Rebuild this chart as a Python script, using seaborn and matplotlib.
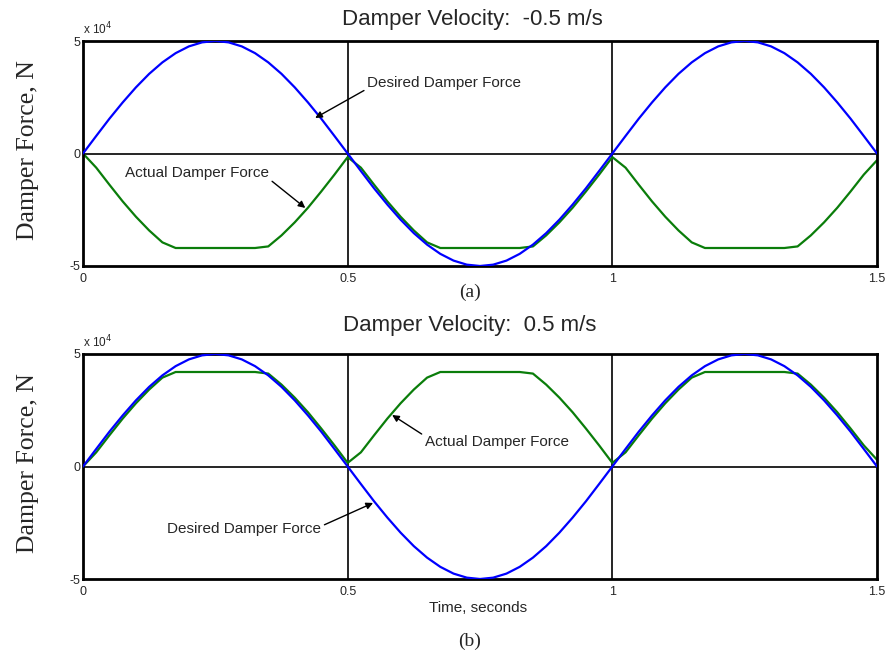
import numpy as np
import pandas as pd
import matplotlib
matplotlib.use("Agg")
import matplotlib.pyplot as plt
import seaborn as sns

# ---- data (force in units of 1e4 N), time step 0.025 s ----
time_s = [round(0.025 * i, 3) for i in range(61)]

desired_a = [0.00, 0.78, 1.55, 2.27, 2.94, 3.54, 4.05, 4.46, 4.76, 4.94, 5.00,
             4.94, 4.76, 4.46, 4.05, 3.54, 2.94, 2.27, 1.55, 0.78, 0.00,
             -0.78, -1.55, -2.27, -2.94, -3.54, -4.05, -4.46, -4.76, -4.94, -5.00,
             -4.94, -4.76, -4.46, -4.05, -3.54, -2.94, -2.27, -1.55, -0.78, 0.00,
             0.78, 1.55, 2.27, 2.94, 3.54, 4.05, 4.46, 4.76, 4.94, 5.00,
             4.94, 4.76, 4.46, 4.05, 3.54, 2.94, 2.27, 1.55, 0.78, 0.00]

actual_a = [0.00, -0.63, -1.39, -2.13, -2.81, -3.42, -3.95, -4.20, -4.20, -4.20, -4.20,
            -4.20, -4.20, -4.20, -4.13, -3.64, -3.06, -2.41, -1.69, -0.94, -0.16,
            -0.63, -1.39, -2.13, -2.81, -3.42, -3.95, -4.20, -4.20, -4.20, -4.20,
            -4.20, -4.20, -4.20, -4.13, -3.64, -3.06, -2.41, -1.69, -0.94, -0.16,
            -0.63, -1.39, -2.13, -2.81, -3.42, -3.95, -4.20, -4.20, -4.20, -4.20,
            -4.20, -4.20, -4.20, -4.13, -3.64, -3.06, -2.41, -1.69, -0.94, -0.30]

desired_b = list(desired_a)

actual_b = [0.00, 0.63, 1.39, 2.13, 2.81, 3.42, 3.95, 4.20, 4.20, 4.20, 4.20,
            4.20, 4.20, 4.20, 4.13, 3.64, 3.06, 2.41, 1.69, 0.94, 0.16,
            0.63, 1.39, 2.13, 2.81, 3.42, 3.95, 4.20, 4.20, 4.20, 4.20,
            4.20, 4.20, 4.20, 4.13, 3.64, 3.06, 2.41, 1.69, 0.94, 0.16,
            0.63, 1.39, 2.13, 2.81, 3.42, 3.95, 4.20, 4.20, 4.20, 4.20,
            4.20, 4.20, 4.20, 4.13, 3.64, 3.06, 2.41, 1.69, 0.94, 0.30]

x_ticks = [0, 0.5, 1, 1.5]
x_ticklabels = ["0", "0.5", "1", "1.5"]
y_ticks = [-5, 0, 5]
y_ticklabels = ["-5", "0", "5"]

titles = ["Damper Velocity:  -0.5 m/s", "Damper Velocity:  0.5 m/s"]
panel_labels = ["(a)", "(b)"]

sns.set_style("white")
plt.rcParams['font.family'] = ['Liberation Sans', 'DejaVu Sans']

W, H = 888, 662
fig = plt.figure(figsize=(W / 100, H / 100), dpi=100)

def fx(px):
    return px / W

def fy(py):
    return 1 - py / H

ax_a = fig.add_axes([fx(83), fy(266), fx(877) - fx(83), fy(41) - fy(266)])
ax_b = fig.add_axes([fx(83), fy(579), fx(877) - fx(83), fy(354) - fy(579)])

BLUE = "#0000ff"
GREEN = "#0a7d0a"

for ax, des, act in [(ax_a, desired_a, actual_a), (ax_b, desired_b, actual_b)]:
    df = pd.DataFrame({"t": time_s, "Desired": des, "Actual": act})
    ax.axhline(0, color="black", lw=1.2, zorder=1)
    for xv in (0.5, 1.0):
        ax.axvline(xv, color="black", lw=1.2, zorder=1)
    sns.lineplot(data=df, x="t", y="Desired", ax=ax, color=BLUE, lw=1.6, zorder=3)
    sns.lineplot(data=df, x="t", y="Actual", ax=ax, color=GREEN, lw=1.6, zorder=2)
    ax.set_xlim(0, 1.5)
    ax.set_ylim(-5, 5)
    ax.set_xticks(x_ticks)
    ax.set_xticklabels(x_ticklabels)
    ax.set_yticks(y_ticks)
    ax.set_yticklabels(y_ticklabels)
    ax.tick_params(axis="both", labelsize=9, length=3, direction="in", color="black")
    ax.tick_params(axis="x", pad=5)
    ax.tick_params(axis="y", pad=2)
    ax.set_xlabel("")
    ax.set_ylabel("")
    for sp in ax.spines.values():
        sp.set_visible(True)
        sp.set_color("black")
        sp.set_linewidth(2.0)
    ax.text(0.0, 1.015, r"x 10$^4$", transform=ax.transAxes, fontsize=8.5,
            ha="left", va="bottom")

arrow = dict(arrowstyle="-|>", color="black", lw=1.0, mutation_scale=10, shrinkA=0, shrinkB=0)

ax_a.annotate("Desired Damper Force", xy=(0.4386, 1.58), xytext=(0.537, 3.13),
              fontsize=11, ha="left", va="center",
              arrowprops=dict(arrow, relpos=(0.0, 0.1)))
ax_a.annotate("Actual Damper Force", xy=(0.42, -2.42), xytext=(0.079, -0.87),
              fontsize=11, ha="left", va="center",
              arrowprops=dict(arrow, relpos=(1.0, 0.1)))
ax_b.annotate("Actual Damper Force", xy=(0.584, 2.29), xytext=(0.646, 1.1),
              fontsize=11, ha="left", va="center",
              arrowprops=dict(arrow, relpos=(0.0, 0.9)))
ax_b.annotate("Desired Damper Force", xy=(0.548, -1.62), xytext=(0.159, -2.78),
              fontsize=11, ha="left", va="center",
              arrowprops=dict(arrow, relpos=(1.0, 0.7)))

# titles
fig.text(fx(472), fy(20), titles[0], fontsize=16, ha="center", va="center")
fig.text(fx(470), fy(326), titles[1], fontsize=16, ha="center", va="center")

# y labels
for yc in (150, 463):
    fig.text(fx(28), fy(yc), "Damper Force, N", rotation=90, ha="center", va="center",
             fontsize=18.5, family=["Liberation Serif", "DejaVu Serif"])

fig.text(fx(478), fy(608), "Time, seconds", fontsize=11, ha="center", va="center")
fig.text(fx(470), fy(292), panel_labels[0], fontsize=14, ha="center", va="center",
         family=["Liberation Serif", "DejaVu Serif"])
fig.text(fx(470), fy(641), panel_labels[1], fontsize=14, ha="center", va="center",
         family=["Liberation Serif", "DejaVu Serif"])

fig.savefig("out.png", dpi=100, facecolor="white")
